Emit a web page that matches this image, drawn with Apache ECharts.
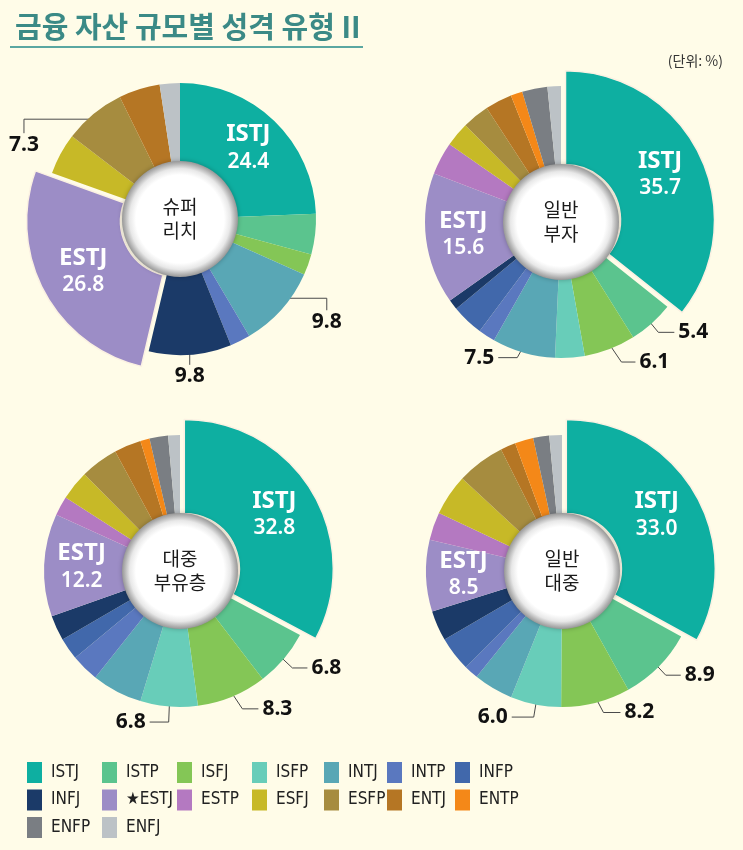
<!DOCTYPE html>
<html><head><meta charset="utf-8">
<script src="https://cdn.jsdelivr.net/npm/echarts@6/dist/echarts.min.js"></script>
<style>html,body{margin:0;padding:0;background:#fffce8;} #c{width:743px;height:850px;}</style>
</head><body><div id="c"></div>
<script>
// ---------- data ----------
const types = ['ISTJ','ISTP','ISFJ','ISFP','INTJ','INTP','INFP','INFJ','ESTJ','ESTP','ESFJ','ESFP','ENTJ','ENTP','ENFP','ENFJ'];
const groupNames = ['슈퍼\n리치','일반\n부자','대중\n부유층','일반\n대중'];
const superRich     = [24.4, 4.8, 2.5, 0,   9.8, 2.4, 0,   9.8, 26.8, 0,   4.9, 7.3, 4.9, 0,   0,   2.4];
const generalRich   = [35.7, 5.4, 6.1, 3.5, 7.5, 2.0, 3.8, 1.2, 15.6, 3.9, 2.9, 3.2, 3.2, 1.4, 3.0, 1.6];
const massAffluent  = [32.8, 6.8, 8.3, 6.8, 6.0, 3.3, 2.6, 3.0, 12.2, 2.3, 3.5, 4.5, 3.2, 1.1, 2.2, 1.4];
const generalPublic = [33.0, 8.9, 8.2, 6.0, 4.7, 1.7, 4.1, 3.6, 8.5, 3.3, 4.9, 5.7, 1.8, 2.2, 1.9, 1.5];
const groupValues = [superRich, generalRich, massAffluent, generalPublic];
const explodedType = ['ESTJ','ISTJ','ISTJ','ISTJ'];
const innerLabelTypes = ['ISTJ','ESTJ'];
const calloutTypes = [['INTJ','INFJ','ESFP'],['ISTP','ISFJ','INTJ'],['ISTP','ISFJ','ISFP'],['ISTP','ISFJ','ISFP']];

// ---------- styles / layout ----------
const colors = ['#0eafa1','#5bc48e','#84c656','#68cdb9','#59a7b5','#5a78bf','#4168ab','#1b3a68',
                '#9c8dc6','#b479c1','#c7b927','#a68c3f','#b57624','#f48818','#7a7e83','#bcc2c6'];
const centers = [[180,219],[561,222],[180,571],[562,571]];
const R = 136, R_IN = 55, R_EXP = 149, HOLE = 58;
const leaderSpecs = [
  { INTJ:{r:0.875, path:[[58,0],[0,12]], side:'below'}, INFJ:{r:0.95, path:[[0,17]], side:'below'}, ESFP:{r:0.95, path:[[-74,0],[0,14]], side:'below'} },
  { ISTP:{r:0.92, path:[[14,17],[16,0]], side:'right'}, ISFJ:{r:0.93, path:[[15,22],[14,0]], side:'right'}, INTJ:{r:0.9, path:[[-10,18],[-19,0]], side:'left'} },
  { ISTP:{r:0.92, path:[[17,16],[15,0]], side:'right'}, ISFJ:{r:0.93, path:[[14,21],[16,0]], side:'right'}, ISFP:{r:0.93, path:[[-1,25],[-19,0]], side:'left'} },
  { ISTP:{r:0.92, path:[[15,16],[15,0]], side:'right'}, ISFJ:{r:0.93, path:[[10,19],[17,0]], side:'right'}, ISFP:{r:0.96, path:[[-3,18],[-22,0]], side:'left'} }
];
const legendX = [27, 102, 177, 252, 324, 387, 455];
const FONT = "'Noto Sans', 'Noto Sans CJK KR', sans-serif";
const NARROW = "'DejaVu Sans Condensed', 'Liberation Sans Narrow', 'Noto Sans', sans-serif";
const BG = '#fffce8';

const innerRich = {
  n:{fontSize:24, fontWeight:'bold', color:'#fff', fontFamily:FONT, lineHeight:28},
  v:{fontSize:21, fontWeight:600, color:'#fff', fontFamily:FONT, lineHeight:27}
};
function innerFormatter(p){ return '{n|' + p.name + '}\n{v|' + Number(p.value).toFixed(1) + '}'; }

function midAngles(vals){
  const total = vals.reduce((a,b)=>a+b,0);
  let acc = 0;
  return vals.map(v => { const a = (acc + v/2)/total*2*Math.PI; acc += v; return a; });
}

const series = [];
groupValues.forEach((vals, k) => {
  const exp = explodedType[k];
  const mids = midAngles(vals);
  const [cx, cy] = centers[k];
  // main ring
  series.push({
    type:'pie', center:centers[k], radius:[R_IN, R], startAngle:90, clockwise:true,
    avoidLabelOverlap:false, silent:true, animation:false, emphasis:{disabled:true},
    label:{show:false}, labelLine:{show:false},
    data: types.map((t,i) => {
      const item = {name:t, value:vals[i], itemStyle:{color: t===exp ? 'rgba(0,0,0,0)' : colors[i]}};
      if (t !== exp && innerLabelTypes.includes(t)) {
        item.label = {show:true, position:'inside', formatter:innerFormatter, rich:innerRich};
      } else if (calloutTypes[k].includes(t)) {
        item.label = {show:true, position:'outside', formatter:(p)=>Number(p.value).toFixed(1),
          fontSize:21, fontWeight:'bold', color:'#111', fontFamily:FONT};
        item.labelLine = {show:true, lineStyle:{color:'#4a4a4a', width:1}};
      }
      return item;
    }),
    labelLayout: function(p){
      const t = types[p.dataIndex];
      const spec = leaderSpecs[k][t];
      if (!spec) return {};
      const a = mids[p.dataIndex];
      const r = spec.r * R;
      let cur = [cx + r*Math.sin(a), cy - r*Math.cos(a)];
      const pts = [cur];
      spec.path.forEach(d => { cur = [cur[0]+d[0], cur[1]+d[1]]; pts.push(cur); });
      let out;
      if (spec.side === 'below') out = {x:cur[0], y:cur[1]+1, align:'center', verticalAlign:'top'};
      else if (spec.side === 'right') out = {x:cur[0]+4, y:cur[1], align:'left', verticalAlign:'middle'};
      else out = {x:cur[0]-4, y:cur[1], align:'right', verticalAlign:'middle'};
      out.labelLinePoints = pts;
      return out;
    }
  });
  // exploded slice ring
  series.push({
    type:'pie', center:centers[k], radius:[R_IN, R_EXP], startAngle:90, clockwise:true,
    avoidLabelOverlap:false, silent:true, animation:false, emphasis:{disabled:true},
    selectedMode:'single', selectedOffset:5,
    label:{show:false}, labelLine:{show:false},
    data: types.map((t,i) => {
      if (t === exp) {
        return {name:t, value:vals[i], selected:true,
          itemStyle:{color:colors[i], borderColor:'#fbf1e2', borderWidth:1.5},
          select:{itemStyle:{color:colors[i], borderColor:'#fbf1e2', borderWidth:1.5}},
          label:{show:true, position:'inside', formatter:innerFormatter, rich:innerRich}};
      }
      return {name:t, value:vals[i], itemStyle:{color:'rgba(0,0,0,0)'}};
    })
  });
  // center disc
  series.push({
    type:'pie', center:centers[k], radius:[0, HOLE], silent:true, animation:false, emphasis:{disabled:true},
    labelLine:{show:false},
    data:[{name:'', value:1, itemStyle:{
      color:{type:'radial', x:0.5, y:0.5, r:0.5, colorStops:[
        {offset:0, color:'#ffffff'},{offset:0.76, color:'#ffffff'},{offset:0.87, color:'#e8e8e8'},
        {offset:0.95, color:'#b5b5b5'},{offset:1, color:'#979797'}]},
      shadowBlur:5, shadowColor:'rgba(0,0,0,0.25)'}}],
    label:{show:true, position:'center', formatter:groupNames[k], fontSize:19, lineHeight:24,
      color:'#1a1a1a', fontFamily:"'Noto Sans CJK KR', sans-serif"}
  });
});

// legend: one vertical legend per column
const legends = legendX.map((x, col) => ({
  orient:'vertical', left:x, top:762, padding:0, itemWidth:15, itemHeight:21, itemGap:6.5,
  icon:'rect', selectedMode:false,
  textStyle:{fontSize:17, color:'#222', fontFamily:NARROW, padding:[0,0,0,4]},
  formatter:(name) => name === 'ESTJ' ? '★ESTJ' : name,
  data: types.map((t,i)=>({t,i})).filter(o => o.i % 7 === col)
        .map(o => ({name:o.t, itemStyle:{color:colors[o.i]}}))
}));

const chart = echarts.init(document.getElementById('c'), null, {renderer:'canvas'});
chart.setOption({
  backgroundColor: BG,
  animation:false,
  title:[
    {text:'금융 자산 규모별 성격 유형 II', left:10, top:7,
     textStyle:{fontSize:29, fontWeight:'bold', color:'#3b8a86', fontFamily:"'Noto Sans CJK KR', sans-serif"}},
    {text:'(단위: %)', right:15, top:49,
     textStyle:{fontSize:14, fontWeight:'normal', color:'#333', fontFamily:"'Noto Sans CJK KR', sans-serif"}}
  ],
  graphic:[{type:'rect', left:10, top:46, shape:{width:353, height:2}, style:{fill:'#5aa7a1'}, silent:true}],
  legend: legends,
  series: series
});
</script></body></html>
